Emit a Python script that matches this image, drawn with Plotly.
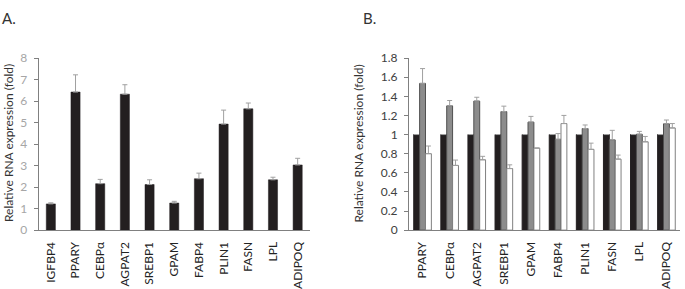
import plotly.graph_objects as go

# Panel A data
genes_a = ["IGFBP4", "PPARY", "CEBPα", "AGPAT2", "SREBP1", "GPAM", "FABP4", "PLIN1", "FASN", "LPL", "ADIPOQ"]
vals_a = [1.22, 6.42, 2.16, 6.32, 2.12, 1.26, 2.39, 4.93, 5.64, 2.34, 3.03]
err_a = [0.05, 0.80, 0.20, 0.44, 0.22, 0.08, 0.26, 0.65, 0.27, 0.12, 0.31]

# Panel B data
genes_b = ["PPARY", "CEBPα", "AGPAT2", "SREBP1", "GPAM", "FABP4", "PLIN1", "FASN", "LPL", "ADIPOQ"]
ctrl_b = [1, 1, 1, 1, 1, 1, 1, 1, 1, 1]
gray_b = [1.535, 1.30, 1.35, 1.24, 1.13, 0.95, 1.063, 0.944, 1.003, 1.112]
gray_err = [0.155, 0.056, 0.04, 0.057, 0.06, 0.06, 0.037, 0.10, 0.03, 0.04]
white_b = [0.80, 0.677, 0.736, 0.644, 0.858, 1.115, 0.845, 0.743, 0.924, 1.069]
white_err = [0.08, 0.056, 0.036, 0.039, 0.0, 0.085, 0.065, 0.042, 0.056, 0.046]

W, H = 685, 289
ERR_COLOR = "#a0a0a0"
FONT = "Lato, Open Sans, sans-serif"

fig = go.Figure()

fig.add_trace(go.Bar(
    x=genes_a, y=vals_a, xaxis="x", yaxis="y", width=0.37,
    marker=dict(color="#231f20", line=dict(color="#231f20", width=0.5)),
    error_y=dict(type="data", symmetric=False, array=err_a, arrayminus=[0] * len(err_a),
                 color=ERR_COLOR, thickness=1, width=2.5),
    showlegend=False,
))

for vals, errs, fill, edge in [
    (ctrl_b, [0] * len(ctrl_b), "#231f20", "#231f20"),
    (gray_b, gray_err, "#8c8c8c", "#505050"),
    (white_b, white_err, "#ffffff", "#808080"),
]:
    fig.add_trace(go.Bar(
        x=genes_b, y=vals, xaxis="x2", yaxis="y2",
        marker=dict(color=fill, line=dict(color=edge, width=1)),
        error_y=dict(type="data", symmetric=False, array=errs, arrayminus=[0] * len(errs),
                     color=ERR_COLOR, thickness=1, width=2.5),
        showlegend=False,
    ))

ydom = [(H - 234.3) / H, (H - 52.8) / H]

common_x = dict(showline=True, linecolor="#808080", linewidth=1, ticks="outside", ticklen=6,
                tickcolor="rgba(0,0,0,0)", tickangle=-90,
                tickfont=dict(family=FONT, size=12, color="#222222"),
                showgrid=False, zeroline=False)

fig.update_layout(
    width=W, height=H,
    margin=dict(l=0, r=0, t=0, b=0),
    paper_bgcolor="white", plot_bgcolor="white",
    barmode="group",
    bargap=0.35, bargroupgap=0,
    font=dict(family=FONT, size=12, color="#333333"),
    xaxis=dict(domain=[38.5 / W, 310 / W], anchor="y", **common_x),
    yaxis=dict(domain=ydom, anchor="x", range=[0, 8], dtick=1, showline=True,
               linecolor="#808080", linewidth=1, ticks="outside", ticklen=4,
               tickcolor="#808080", tickfont=dict(family=FONT, size=12, color="#a6a6a6"),
               ticklabelstandoff=4, showgrid=False, zeroline=False),
    xaxis2=dict(domain=[409 / W, 680 / W], anchor="y2", **common_x),
    yaxis2=dict(domain=ydom, anchor="x2", range=[0, 1.8], dtick=0.2, showline=True,
                linecolor="#808080", linewidth=1, ticks="outside", ticklen=4,
                tickcolor="#808080", tickfont=dict(family=FONT, size=12, color="#404040"),
                tickformat="~g", ticklabelstandoff=4,
                showgrid=False, zeroline=False),
    annotations=[
        dict(text="A.", x=0, y=1, xref="paper", yref="paper", xanchor="left", yanchor="top",
             showarrow=False, font=dict(size=15, color="#333333"), yshift=1),
        dict(text="B.", x=361 / W, y=1, xref="paper", yref="paper", xanchor="left", yanchor="top",
             showarrow=False, font=dict(size=15, color="#333333"), yshift=1),
        dict(text="Relative RNA expression (fold)", x=8.5 / W, y=1 - 143 / H, xref="paper",
             yref="paper", xanchor="center", yanchor="middle", textangle=-90, showarrow=False,
             font=dict(size=12, color="#333333")),
        dict(text="Relative RNA expression (fold)", x=359 / W, y=1 - 143 / H, xref="paper",
             yref="paper", xanchor="center", yanchor="middle", textangle=-90, showarrow=False,
             font=dict(size=12, color="#333333")),
    ],
)

fig.write_html(
    "out.html",
    config={"displayModeBar": False},
    post_script="document.body.style.margin='0';document.body.style.overflow='hidden';",
)
